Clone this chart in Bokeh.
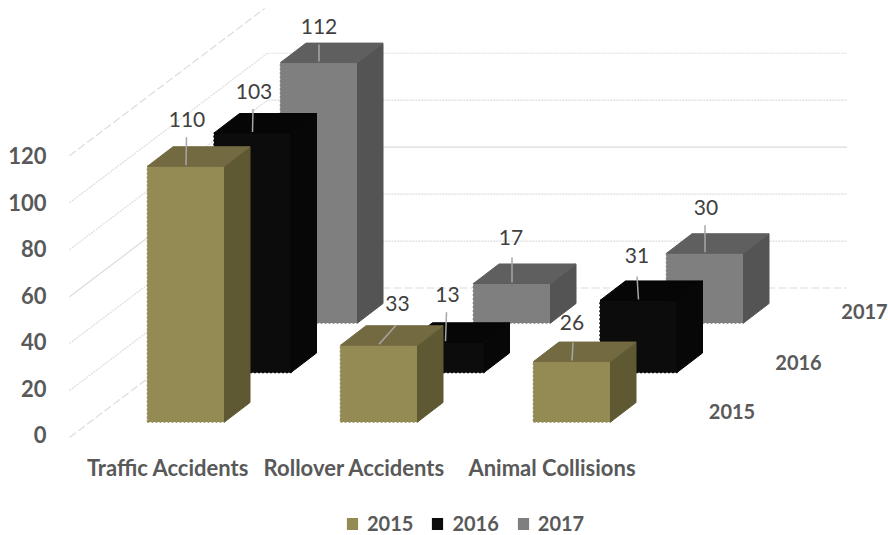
from bokeh.plotting import figure
from bokeh.models import Range1d, LinearAxis, FixedTicker, Legend, LegendItem
from bokeh.core.properties import value
from bokeh.embed import file_html
from bokeh.resources import INLINE

categories = ["Traffic Accidents", "Rollover Accidents", "Animal Collisions"]
series_names = ["2015", "2016", "2017"]
values_2015 = [110, 33, 26]
values_2016 = [103, 13, 31]
values_2017 = [112, 17, 30]
y_ticks = [0, 20, 40, 60, 80, 100, 120]

series_values = [values_2015, values_2016, values_2017]

# --- projection / layout (page pixels) ---
PX_PER_UNIT = 2.325
BASE_X, BASE_Y = 147.0, 421.5      # front-left-bottom of first bar of first series
CAT_STEP = 193.0
SER_DX, SER_DY = 66.5, -49.5
BAR_W = 77.0
DEPTH_DX, DEPTH_DY = 25.5, -19.5

front_col = ["#948a54", "#0c0c0c", "#7f7f7f"]
side_col = ["#5f5933", "#070707", "#545454"]
top_col = ["#736a42", "#060606", "#5f5f5f"]
TEXT = "#595959"
LABEL = "#404040"
GRID = "#dcdcdc"
FONT = "Lato"

# label offsets relative to front-top centre of each bar: (label dx, dy, leader start dx, dy)
label_layout = [
    [(1, -47, 0.5, -29), (18.5, -42, 17, -20), (0, -39, 1, -19)],
    [(1.5, -42, 0.5, -24), (2, -48, 1, -30), (-1.5, -45, -1.5, -24)],
    [(0, -36, 0, -18), (-1, -46, 0, -26), (1, -46, 0, -28)],
]


def bar_faces(i, j, v):
    x0 = BASE_X + i * CAT_STEP + j * SER_DX
    y0 = BASE_Y + j * SER_DY
    x1 = x0 + BAR_W
    yt = y0 - v * PX_PER_UNIT
    dx, dy = DEPTH_DX, DEPTH_DY
    front = ([x0, x1, x1, x0], [y0, y0, yt, yt])
    side = ([x1, x1 + dx, x1 + dx, x1], [y0, y0 + dy, yt + dy, yt])
    top = ([x0, x1, x1 + dx, x0 + dx], [yt, yt, yt + dy, yt + dy])
    return front, side, top, (x0 + BAR_W / 2, yt)


FIG_X, FIG_Y = 4, 8
W, H = 888 - FIG_X, 535 - FIG_Y
LEFT = 60
FRAME_LEFT = FIG_X + LEFT
p = figure(width=W, height=H, output_backend="svg", toolbar_location=None,
           frame_width=W - LEFT, frame_height=H,
           x_range=Range1d(FRAME_LEFT, 888), y_range=Range1d(535, FIG_Y),
           x_axis_location=None, y_axis_location=None,
           min_border_left=LEFT, min_border_right=0, min_border_top=0, min_border_bottom=0,
           outline_line_color=None, background_fill_color="white",
           styles={"position": "absolute", "left": f"{FIG_X}px", "top": f"{FIG_Y}px"})
p.grid.visible = False

# value axis, its zero sits a little under the floor's front edge
TICK_ZERO_Y = 434.0
p.extra_y_ranges = {"v": Range1d((TICK_ZERO_Y - 535) / PX_PER_UNIT, (TICK_ZERO_Y - FIG_Y) / PX_PER_UNIT)}
ax = LinearAxis(y_range_name="v", ticker=FixedTicker(ticks=y_ticks))
ax.axis_line_color = None
ax.major_tick_line_color = None
ax.minor_tick_line_color = None
ax.major_tick_out = 0
ax.major_tick_in = 0
ax.minor_tick_out = 0
ax.minor_tick_in = 0
ax.major_label_standoff = 18
ax.major_label_text_font = FONT
ax.major_label_text_font_style = "bold"
ax.major_label_text_font_size = "22px"
ax.major_label_text_color = TEXT
p.add_layout(ax, "left")

# walls: diagonal side wall plus back wall
WALL_X0, WALL_Y0 = 69.0, 437.0
WALL_DX, WALL_DY = 198.0, -149.5
WALL_END = 846.5
GRID_PX = 46.95 / 20
dashes = ["8 3", "2 1", "2 1", "solid", "2 1", "2 1", "8 3"]
for t, d in zip(y_ticks, dashes):
    y = WALL_Y0 - t * GRID_PX
    p.line([WALL_X0, WALL_X0 + WALL_DX, WALL_END],
           [y, y + WALL_DY, y + WALL_DY],
           line_color=GRID, line_width=1.2, line_dash=d)

legend_items = []
SERRATE = value("2 2")
for j in [2, 1, 0]:
    fronts, sides, tops = ([], []), ([], []), ([], [])
    for i, v in enumerate(series_values[j]):
        f, s, t, _ = bar_faces(i, j, v)
        for bucket, face in zip((fronts, sides, tops), (f, s, t)):
            bucket[0].append(face[0])
            bucket[1].append(face[1])
    p.patches(fronts[0], fronts[1], fill_color=front_col[j], line_color=front_col[j],
              line_width=1.5, line_dash=SERRATE)
    legend_r = p.patches(fronts[0], fronts[1], fill_color=front_col[j], line_color=None)
    p.patches(sides[0], sides[1], fill_color=side_col[j], line_color=side_col[j], line_width=1)
    p.patches(tops[0], tops[1], fill_color=top_col[j], line_color=top_col[j], line_width=1)
    legend_items.insert(0, LegendItem(label=series_names[j], renderers=[legend_r]))

for j in range(3):
    for i, v in enumerate(series_values[j]):
        _, _, _, (cx, cy) = bar_faces(i, j, v)
        ldx, ldy, sdx, sdy = label_layout[j][i]
        p.line([cx + sdx, cx], [cy + sdy, cy - 1], line_color="#a6a6a6", line_width=1.5)
        p.text([cx + ldx], [cy + ldy], text=[str(v)], text_align="center", text_baseline="middle",
               text_font=value(FONT), text_font_size="21px", text_color=LABEL)

# category labels
cat_label_x = [167.5, 354, 551.5]
p.text(cat_label_x, [467] * 3, text=categories, text_align="center", text_baseline="middle",
       text_font=value(FONT), text_font_style="bold", text_font_size="22px", text_color=TEXT)

# depth-axis labels
depth_x = [731.5, 798, 864]
depth_y = [411, 362, 311]
p.text(depth_x, depth_y, text=series_names, text_align="center", text_baseline="middle",
       text_font=value(FONT), text_font_style="bold", text_font_size="20px", text_color=TEXT)

legend = Legend(items=legend_items, orientation="horizontal", location=(345 - FRAME_LEFT, 0),
                glyph_width=14, glyph_height=15, label_standoff=8, spacing=17,
                padding=0, margin=0, border_line_color=None, background_fill_alpha=0,
                label_text_font=FONT, label_text_font_style="bold",
                label_text_font_size="20px", label_text_color=TEXT, label_height=15)
p.add_layout(legend)

open("out.html", "w").write(file_html(p, INLINE))
